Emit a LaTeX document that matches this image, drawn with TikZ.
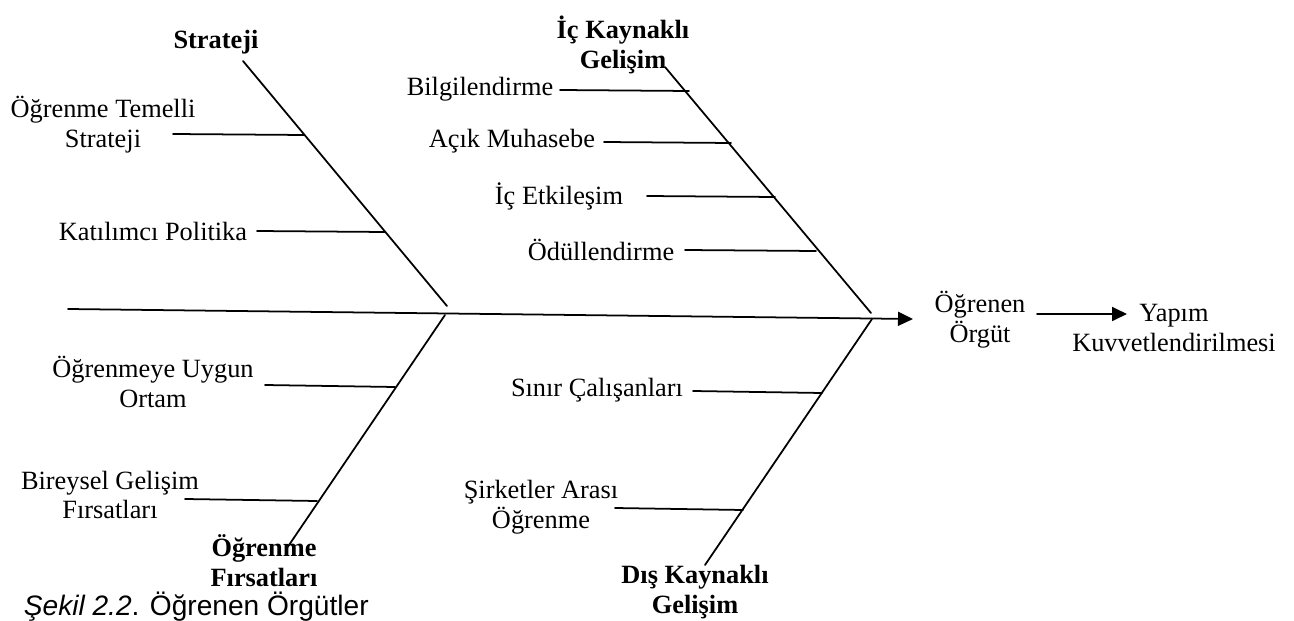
\documentclass[tikz,border=0pt]{standalone}
\usepackage{fontspec}
\setmainfont{Liberation Serif}
\newfontfamily\capfont{Liberation Sans}
\usepackage{tikz}
\usetikzlibrary{arrows.meta}

\begin{document}
\begin{tikzpicture}[x=0.02cm,y=-0.02cm,line width=1pt,line cap=round]
	\tikzstyle{yazi}=[align=center,inner sep=0pt,font=\fontsize{15}{17}\selectfont];
	\tikzstyle{baslik}=[yazi,font=\fontsize{15}{17}\selectfont\bfseries];
	\tikzstyle{ok}=[-{Triangle[length=0.3cm,width=0.28cm]}];
	\useasboundingbox (0,0) rectangle (1294,621);
	%%
	\coordinate (SP1) at (68,309);
	\coordinate (SP2) at (913,319);
	\coordinate (S1) at (243,61);
	\coordinate (S2) at (447,306);
	\coordinate (O1) at (287,548);
	\coordinate (O2) at (445,315);
	\coordinate (I1) at (665,67);
	\coordinate (I2) at (871,313);
	\coordinate (D1) at (705,565);
	\coordinate (D2) at (872,319);
	%%
	\coordinate (OTSa) at (173,134);  \coordinate (OTSb) at (304,135);
	\coordinate (KPa)  at (257,231);  \coordinate (KPb)  at (385,232);
	\coordinate (OUOa) at (265,385);  \coordinate (OUOb) at (395,387);
	\coordinate (BGFa) at (185,499);  \coordinate (BGFb) at (317,501);
	\coordinate (BILa) at (560,90);   \coordinate (BILb) at (689,91);
	\coordinate (ACKa) at (604,142);  \coordinate (ACKb) at (731,143);
	\coordinate (ICEa) at (647,196);  \coordinate (ICEb) at (775,197);
	\coordinate (ODLa) at (685,250);  \coordinate (ODLb) at (816,251);
	\coordinate (SINa) at (693,391);  \coordinate (SINb) at (822,393);
	\coordinate (SIRa) at (615,508);  \coordinate (SIRb) at (743,510);
	\coordinate (OGa)  at (1037,314); \coordinate (OGb)  at (1127,314);
	%%
	\draw[ok] (SP1) -- (SP2);
	\draw (S1) -- (S2);
	\draw (O1) -- (O2);
	\draw (I1) -- (I2);
	\draw (D1) -- (D2);
	%%
	\draw (OTSa) -- (OTSb);
	\draw (KPa) -- (KPb);
	\draw (OUOa) -- (OUOb);
	\draw (BGFa) -- (BGFb);
	\draw (BILa) -- (BILb);
	\draw (ACKa) -- (ACKb);
	\draw (ICEa) -- (ICEb);
	\draw (ODLa) -- (ODLb);
	\draw (SINa) -- (SINb);
	\draw (SIRa) -- (SIRb);
	\draw[ok] (OGa) -- (OGb);
	%%
	\node[baslik] (strateji) at (216,42)  {Strateji};
	\node[baslik] (ofirsat)  at (264,561) {Öğrenme\\Fırsatları};
	\node[baslik] (icgel)    at (623,45)  {İç Kaynaklı\\Gelişim};
	\node[baslik] (disgel)   at (695,592) {Dış Kaynaklı\\Gelişim};
	%%
	\node[yazi] (temelli)  at (103,125) {Öğrenme Temelli\\Strateji};
	\node[yazi] (katilim)  at (153,231) {Katılımcı Politika};
	\node[yazi] (uygun)    at (153,382) {Öğrenmeye Uygun\\Ortam};
	\node[yazi] (bireysel) at (110,495) {Bireysel Gelişim\\Fırsatları};
	\node[yazi] (bilgi)    at (480,89)  {Bilgilendirme};
	\node[yazi] (acik)     at (512,141) {Açık Muhasebe};
	\node[yazi] (etkiles)  at (559,196) {İç Etkileşim};
	\node[yazi] (odul)     at (601,250) {Ödüllendirme};
	\node[yazi] (sinir)    at (597,390) {Sınır Çalışanları};
	\node[yazi] (sirket)   at (541,507) {Şirketler Arası\\Öğrenme};
	\node[yazi] (orgut)    at (980,320) {Öğrenen\\Örgüt};
	\node[yazi] (yapim)    at (1174,328) {Yapım\\Kuvvetlendirilmesi};
	%%
	\node[anchor=west,inner sep=0pt,font=\capfont\fontsize{16}{18}\selectfont] (sekil) at (23,607) {\textit{Şekil 2.2}. Öğrenen Örgütler};
\end{tikzpicture}
\end{document}
